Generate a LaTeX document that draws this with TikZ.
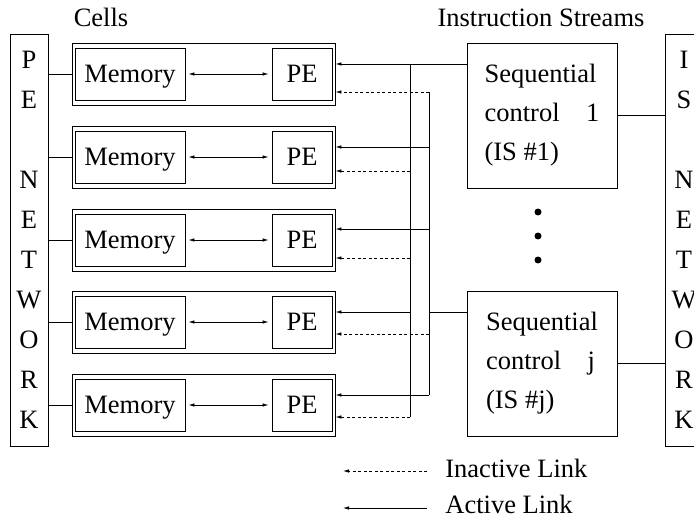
\documentclass[tikz,border=0pt]{standalone}
\usepackage{fontspec}
\setmainfont{Liberation Serif}
\usetikzlibrary{arrows.meta}
\begin{document}
\begin{tikzpicture}[x=1pt,y=-1pt,line width=0.8pt,
  txt/.style={font=\fontsize{26.5}{30}\selectfont,inner sep=0pt,text height=17pt,text depth=0pt},
  netbox/.style={draw,minimum width=38,minimum height=412,align=center,
    font=\fontsize{26.5}{40}\selectfont,inner sep=0pt},
  cellbox/.style={draw,minimum width=263,minimum height=62,inner sep=0pt},
  membox/.style={draw,minimum width=110,minimum height=52,txt},
  pebox/.style={draw,minimum width=60,minimum height=52,txt},
  isbox/.style={draw,minimum width=150,minimum height=145,align=left,
    font=\fontsize{26.5}{39}\selectfont,inner sep=0pt},
  tip/.style={-{Latex[length=6pt,width=3.5pt]}},
  both/.style={{Latex[length=6pt,width=3.5pt]}-{Latex[length=6pt,width=3.5pt]}},
  act/.style={tip},
  inact/.style={tip,dash pattern=on 3pt off 2.5pt},
  dot/.style={circle,fill,inner sep=0pt,minimum size=7pt}]
\useasboundingbox (0,0) rectangle (694,516);

% titles
\node[txt] (cellsT) at (101,18) {Cells};
\node[txt] (isT) at (541,18) {Instruction Streams};

% networks
\node[netbox] (penet) at (29,240) {P\\E\\[40pt]N\\E\\T\\W\\O\\R\\K};
\node[netbox] (isnet) at (684,240) {I\\S\\[40pt]N\\E\\T\\W\\O\\R\\K};

% cells
\foreach \i/\c in {1/74,2/157,3/240,4/322,5/405}{
  \node[cellbox] (cell\i) at (203.5,\c) {};
  \node[membox] (mem\i) at (130,\c) {Memory};
  \node[pebox] (pe\i) at (302,\c) {PE};
  \draw[both] ([xshift=3pt]mem\i.east) -- ([xshift=-3pt]pe\i.west);
  \draw (penet.east |- cell\i.west) -- (cell\i.west);
}

% instruction stream controls
\node[isbox] (is1) at (542,115.5) {Sequential\\control\ \ \ \ 1\\(IS \#1)};
\node[isbox] (isj) at (542,363.5) {Sequential\\control\ \ \ \ j\\(IS \#j)};
\draw (is1.east) -- (isnet.west |- is1.east);
\draw (isj.east) -- (isnet.west |- isj.east);

\node[dot] (d1) at (538,212) {};
\node[dot] (d2) at (538,236) {};
\node[dot] (d3) at (538,260) {};

% buses
\coordinate (At) at (410,64);
\coordinate (Ab) at (410,417);
\coordinate (Bt) at (429,92);
\coordinate (Bb) at (429,395);
\coordinate (Bj) at (429,312);
\draw (At) -- (Ab);
\draw (Bt) -- (Bb);
\draw (Bj) -- (isj.west |- Bj);

% links into PEs
\draw[act] (is1.west |- At) -- (cell1.east |- At);
\draw[inact] (Bt) -- (cell1.east |- Bt);
\draw[act] (Bt |- 0,147) -- (cell2.east |- 0,147);
\draw[inact] (At |- 0,171) -- (cell2.east |- 0,171);
\draw[act] (Bt |- 0,229) -- (cell3.east |- 0,229);
\draw[inact] (At |- 0,258) -- (cell3.east |- 0,258);
\draw[act] (At |- 0,312) -- (cell4.east |- 0,312);
\draw[inact] (Bt |- 0,334) -- (cell4.east |- 0,334);
\draw[act] (Bb) -- (cell5.east |- Bb);
\draw[inact] (Ab) -- (cell5.east |- Ab);

% legend
\coordinate (l1s) at (427,471);
\coordinate (l1e) at (343,471);
\coordinate (l2s) at (427,508);
\coordinate (l2e) at (343,508);
\draw[inact] (l1s) -- (l1e);
\draw[act] (l2s) -- (l2e);
\node[txt,anchor=west] (lt1) at (445,469) {Inactive Link};
\node[txt,anchor=west] (lt2) at (445,505) {Active Link};
\end{tikzpicture}
\end{document}
